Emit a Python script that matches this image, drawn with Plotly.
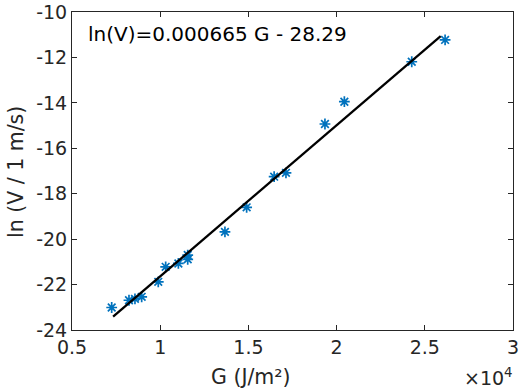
import plotly.graph_objects as go

# Data
G_vals = [7250, 8230, 8570, 8950, 9890, 10310, 11030, 11560, 11560, 13670,
          14900, 16460, 17130, 19340, 20440, 24260, 26150]
lnV_vals = [-23.01, -22.69, -22.63, -22.54, -21.88, -21.22, -21.07, -20.70, -20.89,
            -19.68, -18.60, -17.25, -17.08, -14.93, -13.95, -12.19, -11.23]

slope = 0.000665
intercept = -28.29
fit_x = [7330, 25900]
fit_y = [slope * g + intercept for g in fit_x]

x_tickvals = [5000, 10000, 15000, 20000, 25000, 30000]
x_ticktext = ["0.5", "1", "1.5", "2", "2.5", "3"]
y_tickvals = [-24, -22, -20, -18, -16, -14, -12, -10]
y_ticktext = ["-24", "-22", "-20", "-18", "-16", "-14", "-12", "-10"]

font_family = "DejaVu Sans"
axis_color = "#262626"

W, H = 526, 390
L, R, T, B = 72, 13, 12, 60
pw, ph = W - L - R, H - T - B

def px_x(px):
    return (px - L) / pw

def px_y(py):
    return 1 - (py - T) / ph

fig = go.Figure()
fig.add_trace(go.Scatter(
    x=G_vals, y=lnV_vals, mode="markers",
    marker=dict(symbol="asterisk-open", size=9, color="#0072BD",
                line=dict(color="#0072BD", width=1.7)),
    showlegend=False))
fig.add_trace(go.Scatter(
    x=fit_x, y=fit_y, mode="lines",
    line=dict(color="black", width=2.3), showlegend=False))

axis_common = dict(showline=True, linecolor=axis_color, linewidth=1,
                   mirror="ticks", ticks="inside", ticklen=5, tickcolor=axis_color,
                   showgrid=False, zeroline=False, automargin=False,
                   tickfont=dict(family=font_family, size=19, color=axis_color))

fig.update_xaxes(range=[5000, 30000], tickvals=x_tickvals, ticktext=x_ticktext,
                 **axis_common)
fig.update_yaxes(range=[-24, -10], tickvals=y_tickvals, ticktext=y_ticktext,
                 **axis_common)

# axis titles
fig.add_annotation(x=px_x(251), y=px_y(377), xref="paper", yref="paper",
                   text="G (J/m²)", showarrow=False,
                   xanchor="center", yanchor="middle",
                   font=dict(family=font_family, size=20.5, color=axis_color))
fig.add_annotation(x=px_x(16), y=px_y(172), xref="paper", yref="paper",
                   text="ln (V / 1 m/s)", showarrow=False, textangle=-90,
                   xanchor="center", yanchor="middle",
                   font=dict(family=font_family, size=20.5, color=axis_color))

fig.add_annotation(x=px_x(86), y=px_y(34), xref="paper", yref="paper",
                   text="ln(V)=0.000665 G - 28.29", showarrow=False,
                   xanchor="left", yanchor="middle",
                   font=dict(family=font_family, size=20, color="black"))
fig.add_annotation(x=px_x(515), y=px_y(377), xref="paper", yref="paper",
                   text="×10<sup>4</sup>", showarrow=False,
                   xanchor="right", yanchor="middle",
                   font=dict(family=font_family, size=19, color=axis_color))

fig.update_layout(width=W, height=H,
                  margin=dict(l=L, r=R, t=T, b=B, autoexpand=False),
                  paper_bgcolor="white", plot_bgcolor="white")

fig.write_html("out.html", config={"displayModeBar": False},
               post_script="document.body.style.margin='0';")
